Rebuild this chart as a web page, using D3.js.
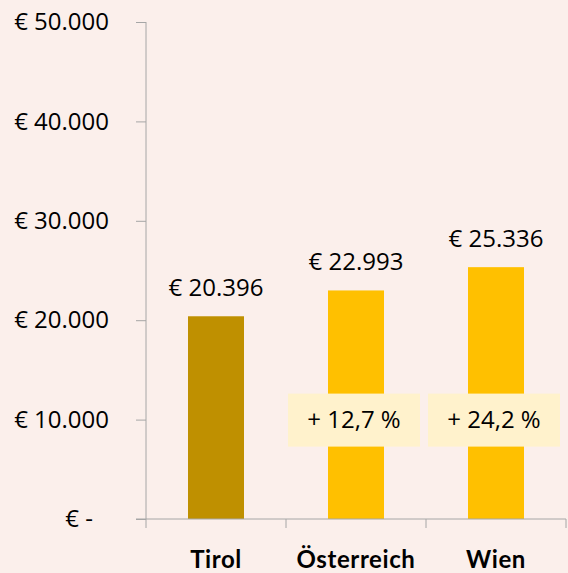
<!DOCTYPE html>
<html>
<head>
<meta charset="utf-8">
<script src="https://cdn.jsdelivr.net/npm/d3@7/dist/d3.min.js"></script>
<style>
	body { margin: 0; background: #FBEFEB; }
	svg { display: block; }
	.yaxis text { font-family: "Open Sans", sans-serif; font-size: 24px; fill: #000; }
	.xaxis text { font-family: Lato, sans-serif; font-weight: bold; font-size: 24px; fill: #000; letter-spacing: 0.6px; }
	.value { font-family: "Open Sans", sans-serif; font-size: 24px; fill: #000; }
</style>
</head>
<body>
<div id="chart"></div>
<script>
//Chart data
var regions = ["Tirol", "Österreich", "Wien"];
var incomes = [20396, 22993, 25336];
var barColors = ["#BF9000", "#FFC000", "#FFC000"];
var yTicks = [0, 10000, 20000, 30000, 40000, 50000];

var width = 568;
var height = 573;
var plotLeft = 146;
var plotRight = 566;
var plotTop = 22;
var plotBottom = 519;

//Number format with dot thousand separator
function euro(v) {
	if (v == 0) { return "€ -"; }
	return "€ " + d3.format(",")(v).replace(/,/g, ".");
}

function growth(v) {
	return "+ " + d3.format(".1f")((v / incomes[0] - 1) * 100).replace(".", ",") + " %";
}

var svg = d3.select("#chart")
			.append("svg")
			.attr("width", width)
			.attr("height", height);

var xscale = d3.scaleBand().domain(regions).range([plotLeft, plotRight]).paddingInner(0.6).paddingOuter(0.3);
var yscale = d3.scaleLinear().domain([0, 50000]).range([plotBottom, plotTop]);

//Bars
svg.selectAll("rect.bar")
	.data(regions)
	.enter().append("rect")
		.attr("class", "bar")
		.attr("x", function(d) { return xscale(d); })
		.attr("y", function(d, i) { return yscale(incomes[i]); })
		.attr("width", xscale.bandwidth())
		.attr("height", function(d, i) { return plotBottom - yscale(incomes[i]); })
		.attr("fill", function(d, i) { return barColors[i]; });

//Value labels above bars
svg.selectAll("text.value")
	.data(regions)
	.enter().append("text")
		.attr("class", "value")
		.attr("x", function(d) { return xscale(d) + xscale.bandwidth() / 2; })
		.attr("y", function(d, i) { return yscale(incomes[i]) - 20; })
		.attr("text-anchor", "middle")
		.text(function(d, i) { return euro(incomes[i]); });

//Growth boxes compared to Tirol
var boxes = svg.selectAll("g.growth")
	.data(regions.slice(1))
	.enter().append("g")
		.attr("class", "growth")
		.attr("transform", function(d) {
			return "translate(" + (xscale(d) + xscale.bandwidth() / 2 - 2) + "," + yscale(10000) + ")";
		});
boxes.append("rect")
	.attr("x", -66).attr("y", -26)
	.attr("width", 132).attr("height", 53)
	.attr("fill", "#FFF2CC");
boxes.append("text")
	.attr("class", "value")
	.attr("text-anchor", "middle")
	.attr("dy", "0.35em")
	.text(function(d, i) { return growth(incomes[i + 1]); });

//Axes
var yaxis = d3.axisLeft(yscale).tickValues(yTicks).tickSize(10).tickPadding(27).tickFormat(euro);
var gy = svg.append("g").attr("class", "yaxis").attr("transform", "translate(" + plotLeft + ",0)").call(yaxis);
gy.select(".domain").attr("stroke", "#A6A6A6").attr("d", "M0," + plotTop + "V" + plotBottom);
gy.selectAll(".tick line").attr("stroke", "#A6A6A6");
gy.selectAll(".tick text").filter(function(d) { return d == 0; }).attr("dx", -16);

var xaxis = d3.axisBottom(xscale).tickSize(0).tickPadding(32);
var gx = svg.append("g").attr("class", "xaxis").attr("transform", "translate(0," + plotBottom + ")").call(xaxis);
gx.select(".domain").attr("stroke", "#A6A6A6").attr("d", "M" + (plotLeft - 10) + ",0H" + plotRight);
gx.selectAll(".tick text").attr("dy", "0.71em");

//Category separators
var edges = regions.map(function(d) { return xscale(d) - xscale.step() * 0.3; }).concat([plotRight]);
svg.selectAll("line.sep")
	.data(edges)
	.enter().append("line")
		.attr("class", "sep")
		.attr("x1", function(d) { return d; }).attr("x2", function(d) { return d; })
		.attr("y1", plotBottom).attr("y2", plotBottom + 9)
		.attr("stroke", "#A6A6A6");
</script>
</body>
</html>
